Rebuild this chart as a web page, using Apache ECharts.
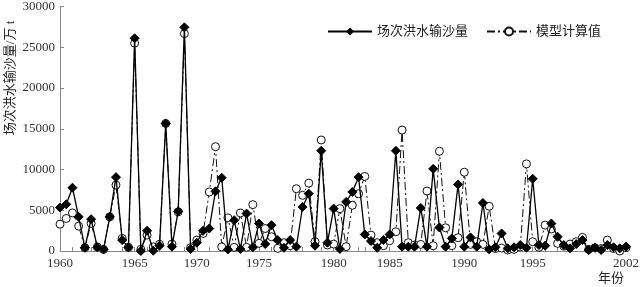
<!DOCTYPE html>
<html><head><meta charset="utf-8">
<script src="https://cdn.jsdelivr.net/npm/echarts@6/dist/echarts.min.js"></script>
<style>html,body{margin:0;padding:0;background:#fff}#c{width:642px;height:287px}</style>
</head><body><div id="c"></div>
<script>
const observed = [5330,5730,7770,4190,400,3900,450,200,4190,9060,1340,450,26100,0,2480,40,650,15650,530,4880,27440,240,1010,2480,2760,7320,8990,200,3780,240,4590,450,3370,850,3170,1340,400,1340,530,5400,7030,650,12300,1020,5200,240,6020,7240,9060,2030,1220,400,1340,2030,12300,530,530,530,5280,530,10080,2890,530,1540,8170,530,1670,530,5890,200,450,2150,325,450,730,400,8860,730,650,3370,1750,730,325,850,1340,120,400,120,730,450,325,530];
const model = [3290,3990,4670,3050,400,3380,500,200,4190,8090,1550,450,25500,200,1950,500,830,15650,850,4800,26670,420,1340,2150,7240,12800,500,4070,450,4670,450,5690,940,2760,1750,325,1020,650,7640,6830,8330,1140,13620,730,850,5200,530,5610,7030,9150,1950,1020,650,1260,2360,14840,1020,730,810,7360,650,12240,2850,650,1630,9670,810,1140,810,5490,300,360,120,200,500,10690,1140,450,3170,2700,935,600,850,1140,1670,200,400,300,1340,300,0,400];
const eventNo = observed.map((v,i)=>String(i+1));
const tickYears = [1960,1965,1970,1975,1980,1985,1990,1995,2002];
const tickEventIdx = [0,12,22,32,44,53,65,76,91];
const seriesNames = ['场次洪水输沙量','模型计算值'];

const labelMap = {};
tickEventIdx.forEach((ix,k)=>{labelMap[ix]=String(tickYears[k]);});
const tickSet = new Set();
for (let k=0;k<tickYears.length-1;k++){
  const a=tickEventIdx[k], b=tickEventIdx[k+1], ya=tickYears[k], yb=tickYears[k+1];
  for (let y=ya;y<=yb;y++) tickSet.add(Math.round(a+(b-a)*(y-ya)/(yb-ya)));
}
const serif = '"Liberation Serif","DejaVu Serif","Noto Sans CJK SC",serif';
const chart = echarts.init(document.getElementById('c'));
chart.setOption({
  animation:false,
  backgroundColor:'#fff',
  grid:{left:60,right:12,top:5,bottom:36},
  legend:{
    left:322, top:20, itemWidth:44, itemHeight:10, itemGap:18,
    textStyle:{fontFamily:serif,fontSize:13,color:'#222'},
    data:seriesNames
  },
  xAxis:{
    type:'category', data:eventNo, boundaryGap:false,
    axisLine:{lineStyle:{color:'#888',width:1}},
    axisTick:{inside:true,length:4,interval:(i)=>tickSet.has(i),lineStyle:{color:'#888'}},
    axisLabel:{interval:(i)=>labelMap[i]!==undefined, formatter:(v,i)=>labelMap[i]||'',
      fontFamily:serif,fontSize:13,color:'#333',margin:6,showMaxLabel:true,showMinLabel:true},
    splitLine:{show:false}
  },
  yAxis:{
    type:'value', min:0, max:30000, interval:5000,
    axisLine:{show:true,lineStyle:{color:'#888'}},
    axisTick:{show:true,inside:true,length:4,lineStyle:{color:'#888'}},
    axisLabel:{fontFamily:serif,fontSize:13,color:'#333',margin:5,formatter:(v)=>String(v)},
    splitLine:{show:false}
  },
  graphic:[
    {type:'text',x:11,y:78,rotation:Math.PI/2,style:{text:'场次洪水输沙量/万 t',font:'13px '+serif,fill:'#222',textAlign:'center',textVerticalAlign:'middle'}},
    {type:'text',x:611,y:279,style:{text:'年份',font:'13px '+serif,fill:'#222',textAlign:'center',textVerticalAlign:'middle'}}
  ],
  series:[
    {name:seriesNames[1],type:'line',data:model,symbol:'circle',symbolSize:8,showAllSymbol:true,
      itemStyle:{color:'#fff',borderColor:'#111',borderWidth:1},
      lineStyle:{color:'#111',width:1,type:[8,3,2,3]},z:2},
    {name:seriesNames[0],type:'line',data:observed,symbol:'diamond',symbolSize:9,showAllSymbol:true,
      itemStyle:{color:'#000',borderColor:'#000'},
      lineStyle:{color:'#000',width:1.3},z:3}
  ]
});
</script></body></html>
